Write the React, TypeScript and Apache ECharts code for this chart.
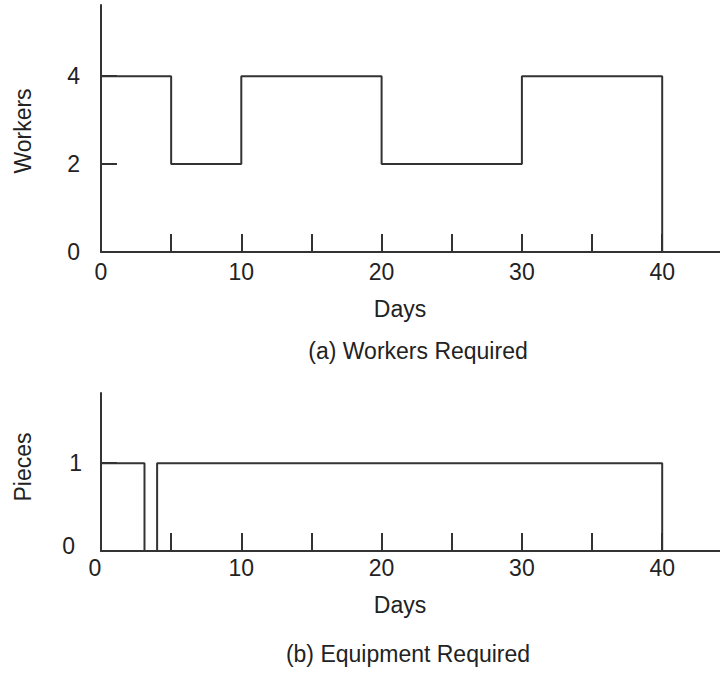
import React, { useEffect, useRef } from "react";
import * as echarts from "echarts";

// Workers required (step changes: [day, workers])
const workerSteps: [number, number][] = [
  [0, 4],
  [5, 2],
  [10, 4],
  [20, 2],
  [30, 4],
  [40, 0],
];
// Equipment required (step changes: [day, pieces])
const equipmentSteps: [number, number][] = [
  [0, 1],
  [3.1, 0],
  [4, 1],
  [40, 0],
];
const xTickValues = [5, 10, 15, 20, 25, 30, 35, 40];
const xLabelValues = [0, 10, 20, 30, 40];
const workerYLabels = [0, 2, 4];
const pieceYLabels = [0, 1];
const xAxisTitle = "Days";
const workersTitle = "Workers";
const piecesTitle = "Pieces";
const captionA = "(a) Workers Required";
const captionB = "(b) Equipment Required";

const FONT = "'Liberation Sans', Arial, sans-serif";
const INK = "#333";
const TEXT = "#222";
const FS = 23;

export default function App() {
  const ref = useRef<HTMLDivElement>(null);
  useEffect(() => {
    if (!ref.current) return;
    const chart = echarts.init(ref.current, undefined, { renderer: "svg" });
    const lineStyle = { color: INK, width: 2 };
    const labelBase = { color: TEXT, fontSize: FS, fontFamily: FONT };
    const txt = (text: string, x: number, y: number, rot = 0) => ({
      type: "text",
      x,
      y,
      rotation: rot,
      style: {
        text,
        fill: TEXT,
        fontSize: FS,
        fontFamily: FONT,
        align: "center",
        verticalAlign: "middle",
      },
    });
    chart.setOption({
      animation: false,
      backgroundColor: "#fff",
      grid: [
        { left: 101, top: 5, width: 619, height: 247 },
        { left: 101, top: 393, width: 619, height: 158 },
      ],
      xAxis: [0, 1].map((i) => ({
        type: "value",
        gridIndex: i,
        min: 0,
        max: 44.12,
        splitLine: { show: false },
        axisLine: { show: true, onZero: false, lineStyle },
        axisTick: {
          show: true,
          inside: true,
          length: 18,
          customValues: xTickValues,
          lineStyle,
        },
        axisLabel: {
          ...labelBase,
          margin: i === 0 ? 8 : 5,
          customValues: xLabelValues,
          formatter: (v: number) =>
            i === 1 && v === 0 ? "{z|0}" : String(v),
          rich: {
            z: { ...labelBase, padding: [0, 12, 0, 0] },
          },
        },
      })),
      yAxis: [
        {
          type: "value",
          gridIndex: 0,
          min: 0,
          max: 5.62,
          splitLine: { show: false },
          axisLine: { show: true, onZero: false, lineStyle },
          axisTick: {
            show: true,
            inside: true,
            length: 16,
            customValues: workerYLabels,
            lineStyle,
          },
          axisLabel: {
            ...labelBase,
            margin: 21,
            customValues: workerYLabels,
          },
        },
        {
          type: "value",
          gridIndex: 1,
          min: 0,
          max: 1.8,
          splitLine: { show: false },
          axisLine: { show: true, onZero: false, lineStyle },
          axisTick: {
            show: true,
            inside: true,
            length: 16,
            customValues: pieceYLabels,
            lineStyle,
          },
          axisLabel: {
            ...labelBase,
            margin: 19,
            customValues: pieceYLabels,
            formatter: (v: number) => (v === 0 ? "{z|0}" : String(v)),
            rich: {
              z: { ...labelBase, padding: [0, 7, 10, 0] },
            },
          },
        },
      ],
      series: [
        {
          type: "line",
          xAxisIndex: 0,
          yAxisIndex: 0,
          step: "end",
          data: workerSteps,
          symbol: "none",
          lineStyle,
          clip: false,
        },
        {
          type: "line",
          xAxisIndex: 1,
          yAxisIndex: 1,
          step: "end",
          data: equipmentSteps,
          symbol: "none",
          lineStyle,
          clip: false,
        },
      ],
      graphic: [
        txt(xAxisTitle, 400, 309),
        txt(captionA, 418, 351),
        txt(xAxisTitle, 400, 605),
        txt(captionB, 408, 654),
        txt(workersTitle, 23, 131, Math.PI / 2),
        txt(piecesTitle, 23, 467, Math.PI / 2),
      ],
    });
    return () => chart.dispose();
  }, []);
  return (
    <div
      ref={ref}
      style={{ position: "absolute", left: 0, top: 0, width: 720, height: 676 }}
    />
  );
}
